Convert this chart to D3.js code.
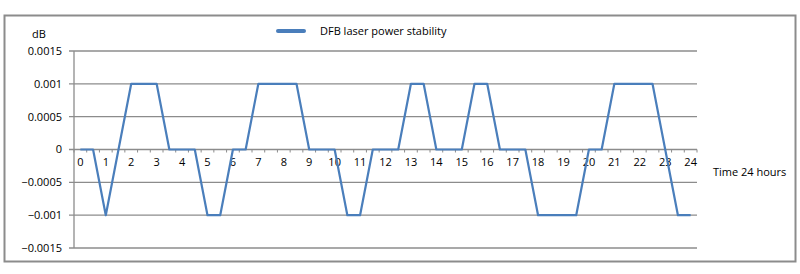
<!DOCTYPE html>
<html>
<head>
<meta charset="utf-8">
<script src="https://cdn.jsdelivr.net/npm/d3@7"></script>
<style>
  body { margin: 0; background: #fff; }
  svg { display: block; font-family: "Open Sans", sans-serif; }
</style>
</head>
<body>
<div id="chart"></div>
<script>
  // half-hour samples, 0 .. 24 h
  const hours = d3.range(0, 24.5, 0.5);
  const power = [
    0, 0, -0.001, 0, 0.001, 0.001, 0.001, 0, 0, 0,
    -0.001, -0.001, 0, 0, 0.001, 0.001, 0.001, 0.001, 0, 0,
    0, -0.001, -0.001, 0, 0, 0, 0.001, 0.001, 0, 0,
    0, 0.001, 0.001, 0, 0, 0, -0.001, -0.001, -0.001, -0.001,
    0, 0, 0.001, 0.001, 0.001, 0.001, 0, -0.001, -0.001
  ];
  const yTicks = [-0.0015, -0.001, -0.0005, 0, 0.0005, 0.001, 0.0015];
  const seriesName = "DFB laser power stability";

  const width = 800, height = 274;
  const plot = { left: 74, right: 697, top: 51, bottom: 248 };
  const grey = "#8c8c8c";

  const svg = d3.select("#chart").append("svg")
    .attr("width", width)
    .attr("height", height);

  // outer frame
  svg.append("rect")
    .attr("x", 4.5).attr("y", 15.5)
    .attr("width", 791).attr("height", 246)
    .attr("fill", "none")
    .attr("stroke", grey)
    .attr("stroke-width", 2);

  const x = d3.scaleBand()
    .domain(hours)
    .range([plot.left, plot.right]);

  const y = d3.scaleLinear()
    .domain([-0.0015, 0.0015])
    .range([plot.bottom, plot.top]);

  // horizontal gridlines
  svg.append("g")
    .selectAll("line")
    .data(yTicks)
    .join("line")
      .attr("x1", plot.left - 5)
      .attr("x2", plot.right)
      .attr("y1", d => y(d))
      .attr("y2", d => y(d))
      .attr("stroke", grey)
      .attr("stroke-width", 1.3);

  // y axis line
  svg.append("line")
    .attr("x1", plot.left).attr("x2", plot.left)
    .attr("y1", plot.top).attr("y2", plot.bottom)
    .attr("stroke", grey)
    .attr("stroke-width", 1.3);

  svg.append("g")
    .style("font-size", "11px")
    .selectAll("text")
    .data(yTicks)
    .join("text")
      .attr("x", plot.left - 12)
      .attr("y", d => y(d))
      .attr("dy", "0.35em")
      .attr("text-anchor", "end")
      .text(d => d3.format("")(+d.toFixed(4)));

  // x axis along zero
  const y0 = y(0);
  const bounds = hours.map(h => x(h)).concat([plot.right]);
  svg.append("g")
    .selectAll("line")
    .data(bounds)
    .join("line")
      .attr("x1", d => d).attr("x2", d => d)
      .attr("y1", y0).attr("y2", y0 + 3)
      .attr("stroke", grey)
      .attr("stroke-width", 1);

  svg.append("g")
    .style("font-size", "11px")
    .selectAll("text")
    .data(hours.filter(h => Number.isInteger(h)))
    .join("text")
      .attr("x", d => x(d) + x.bandwidth() / 2)
      .attr("y", y0 + 16)
      .attr("text-anchor", "middle")
      .text(d => d);

  // series line
  const line = d3.line()
    .x((d, i) => x(hours[i]) + x.bandwidth() / 2)
    .y(d => y(d));

  svg.append("path")
    .datum(power)
    .attr("fill", "none")
    .attr("stroke", "#4a7ebb")
    .attr("stroke-width", 2.2)
    .attr("stroke-linejoin", "round")
    .attr("d", line);

  // titles
  svg.append("text")
    .attr("x", 32).attr("y", 38)
    .style("font-size", "11px")
    .text("dB");

  svg.append("text")
    .attr("x", 713).attr("y", 176)
    .style("font-size", "11px")
    .text("Time 24 hours");

  // legend
  const legend = svg.append("g");
  legend.append("line")
    .attr("x1", 278).attr("x2", 304)
    .attr("y1", 31).attr("y2", 31)
    .attr("stroke", "#4a7ebb")
    .attr("stroke-width", 4)
    .attr("stroke-linecap", "round");
  legend.append("text")
    .attr("x", 320).attr("y", 35)
    .style("font-size", "11px")
    .text(seriesName);
</script>
</body>
</html>
